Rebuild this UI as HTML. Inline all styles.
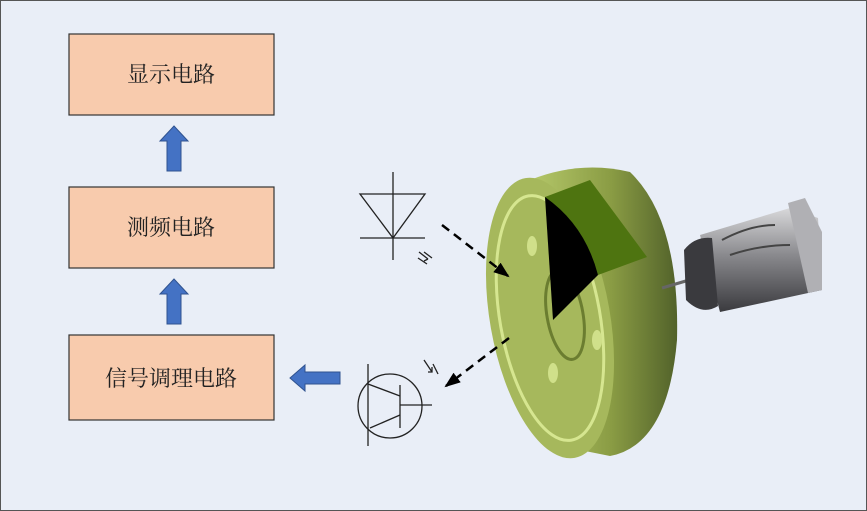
<!DOCTYPE html>
<html><head><meta charset="utf-8"><style>
body{margin:0;background:#fff}
svg{display:block}
text{font-family:"Liberation Serif","Noto Serif CJK SC",serif;font-size:22px;fill:#222}
</style></head><body>
<svg width="867" height="511" viewBox="0 0 867 511" xmlns="http://www.w3.org/2000/svg">
<defs>
<linearGradient id="side" x1="0" y1="0" x2="1" y2="0">
<stop offset="0" stop-color="#b5c86a"/><stop offset="0.55" stop-color="#8a9c44"/><stop offset="1" stop-color="#52622a"/></linearGradient>
<linearGradient id="mot" x1="0" y1="0" x2="0" y2="1">
<stop offset="0" stop-color="#d8d8da"/><stop offset="0.45" stop-color="#8a8a8e"/><stop offset="1" stop-color="#3a3a3e"/></linearGradient>
<marker id="ah" markerWidth="16" markerHeight="12" refX="14" refY="6" orient="auto" markerUnits="userSpaceOnUse"><path d="M0,0 L16,6 L0,12z" fill="#000"/></marker>
</defs>
<rect x="0.5" y="0.5" width="866" height="510" fill="#e9eef7" stroke="#555"/>
<g stroke="#333" stroke-width="1.2" fill="#f8cbad">
<rect x="69" y="34" width="205" height="81"/>
<rect x="69" y="187" width="205" height="81"/>
<rect x="69" y="335" width="205" height="85"/>
</g>
<text x="171" y="82" text-anchor="middle">显示电路</text>
<text x="171" y="235" text-anchor="middle">测频电路</text>
<text x="171" y="386" text-anchor="middle">信号调理电路</text>
<g fill="#4472c4" stroke="#2f528f" stroke-width="1">
<path d="M174,126 L188,141 L181,141 L181,171 L167,171 L167,141 L160,141z"/>
<path d="M174,279 L188,294 L181,294 L181,324 L167,324 L167,294 L160,294z"/>
<path d="M290,378 L305,365 L305,372 L340,372 L340,384 L305,384 L305,391z"/>
</g>
<!-- diode -->
<g stroke="#222" stroke-width="1.3" fill="none">
<line x1="393" y1="172" x2="393" y2="260"/>
<path d="M360,194 L425,194 L393,238z"/>
<line x1="360" y1="238" x2="425" y2="238"/>
<path d="M419,252 L428,259 M424,252 L432,258 M428,259 L424,261 M418,258 L427,264"/>
<!-- transistor -->
<circle cx="390" cy="406" r="32"/>
<line x1="368" y1="364" x2="368" y2="446"/>
<line x1="400" y1="385" x2="400" y2="428"/>
<line x1="400" y1="405" x2="432" y2="405"/>
<line x1="368" y1="384" x2="400" y2="396"/>
<line x1="400" y1="415" x2="370" y2="428"/>
<path d="M424,360 L432,372 M433,364 L438,374 M428,372 L432,372 L432,367"/>
</g>
<!-- disc -->
<g>
<path d="M530,180 Q580,160 630,172 Q680,220 677,340 Q668,445 610,456 L580,450 Z" fill="url(#side)"/>
<ellipse cx="550" cy="318" rx="60" ry="142" transform="rotate(-10 550 318)" fill="#a6b85c"/>
<ellipse cx="550" cy="318" rx="50" ry="124" transform="rotate(-10 550 318)" fill="none" stroke="#d6e690" stroke-width="3"/>
<ellipse cx="565" cy="315" rx="18" ry="45" transform="rotate(-10 565 315)" fill="none" stroke="#6b7d30" stroke-width="3"/>
<path d="M545,197 L590,180 L647,257 L598,275 Z" fill="#4e7410"/>
<path d="M545,197 Q585,225 598,275 L553,320 Z" fill="#000"/>
<ellipse cx="532" cy="246" rx="5" ry="10" fill="#d0e08a"/>
<ellipse cx="597" cy="340" rx="5" ry="10" fill="#d0e08a"/>
<ellipse cx="553" cy="373" rx="5" ry="10" fill="#d0e08a"/>
</g>
<!-- motor -->
<line x1="662" y1="288" x2="696" y2="278" stroke="#666" stroke-width="3"/>
<path d="M700,235 L790,208 L818,218 L822,290 L720,312 Z" fill="url(#mot)"/>
<path d="M788,203 L805,198 L822,232 L822,290 L808,293 Z" fill="#b0b0b4"/>
<path d="M684,250 Q695,236 712,238 L718,306 Q702,316 686,300 Z" fill="#3a3a3e"/>
<path d="M722,240 Q750,225 775,225 M730,255 Q760,245 790,245" stroke="#444" stroke-width="2" fill="none"/>
<!-- dashed arrows -->
<g stroke="#000" stroke-width="2.5" stroke-dasharray="9,6">
<line x1="442" y1="225" x2="508" y2="276" marker-end="url(#ah)"/>
<line x1="509" y1="338" x2="446" y2="386" marker-end="url(#ah)"/>
</g>
</svg>
</body></html>
